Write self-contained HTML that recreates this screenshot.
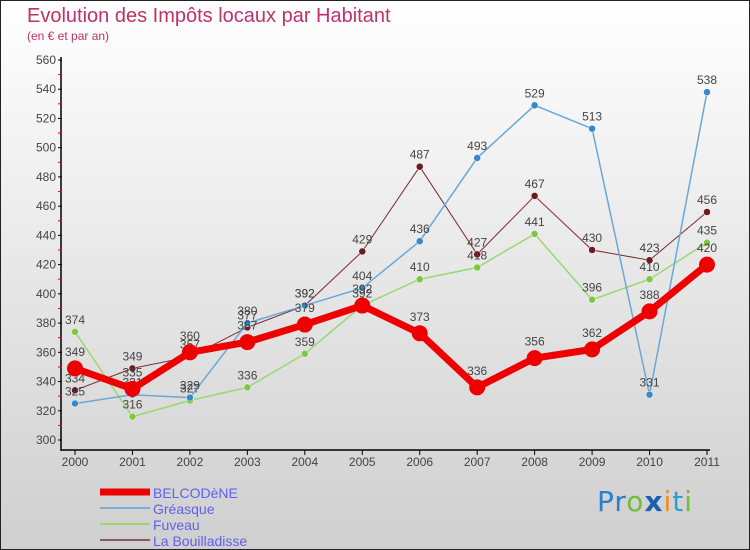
<!DOCTYPE html>
<html><head><meta charset="utf-8"><style>
body{margin:0}
#wrap{width:750px;height:550px;position:relative;overflow:hidden;background:linear-gradient(#ffffff,#cfcfcf);box-sizing:border-box;border:1px solid #222;font-family:"Liberation Sans",sans-serif}
.t{position:absolute;white-space:nowrap}
</style></head><body>
<div id="wrap">
<div class="t" style="left:26px;top:4px;font-size:20px;color:#c0306a">Evolution des Impôts locaux par Habitant</div>
<div class="t" style="left:26px;top:28px;font-size:12px;color:#c0306a">(en € et par an)</div>
<svg id="svg" width="750" height="550" style="position:absolute;left:-1px;top:-1px"></svg>
<div class="t" style="left:596px;top:484px;font-size:28px;font-family:'DejaVu Sans',sans-serif;letter-spacing:1px"><span style="color:#2a7fd0">Pr</span><span style="color:#6cbf3a">o</span><span style="color:#1a5fb0;font-weight:bold">x</span><span style="color:#f08a1c">i</span><span style="color:#2a9fd0">t</span><span style="color:#6cbf3a">i</span></div>
</div>
<script>
const years=[2000,2001,2002,2003,2004,2005,2006,2007,2008,2009,2010,2011];
const yTicks=[300,320,340,360,380,400,420,440,460,480,500,520,540,560];
const belcodene=[349,335,360,367,379,392,373,336,356,362,388,420];
const greasque=[325,331,329,380,392,404,436,493,529,513,331,538];
const fuveau=[374,316,327,336,359,392,410,418,441,396,410,435];
const bouilladisse=[334,349,357,377,392,429,487,427,467,430,423,456];
const svg=document.getElementById('svg');const NS='http://www.w3.org/2000/svg';
const X=i=>75+i*(707-75)/11;const Y=v=>440-(v-300)*380/260;
function mk(t,a,p){const e=document.createElementNS(NS,t);for(const k in a)e.setAttribute(k,a[k]);(p||svg).appendChild(e);return e;}
mk('line',{x1:61,y1:57,x2:61,y2:451,stroke:'#000','stroke-width':1.5});
mk('line',{x1:61,y1:450,x2:710,y2:450,stroke:'#000','stroke-width':1.5});
yTicks.forEach(v=>{const y=Y(v);
 mk('line',{x1:58,y1:y,x2:62,y2:y,stroke:'#000'});
 if(v<560)mk('line',{x1:58,y1:y-14.6,x2:62,y2:y-14.6,stroke:'#e00'});
 const t=mk('text',{x:56,y:y+4,'text-anchor':'end','font-size':12,fill:'#444'});t.textContent=v;
 });
years.forEach((yr,i)=>{const x=X(i);mk('line',{x1:x,y1:450,x2:x,y2:455,stroke:'#000'});
 const t=mk('text',{x:x,y:466,'text-anchor':'middle','font-size':12,fill:'#444'});t.textContent=yr;
 });
const series=[
 {name:'la-bouilladisse',d:bouilladisse,c:'#7a2a30',f:'#6a1a20',w:1,r:3.5},
 {name:'fuveau',d:fuveau,c:'#9ad870',f:'#7cc840',w:1.5,r:3.5},
 {name:'greasque',d:greasque,c:'#6aa8d8',f:'#3a88c8',w:1.5,r:3.5},
 {name:'belcodene',d:belcodene,c:'#ee0000',f:'#ee0000',w:7,r:8}];
series.forEach(s=>{const g=mk('g',{});
 mk('polyline',{points:s.d.map((v,i)=>X(i)+','+Y(v)).join(' '),fill:'none',stroke:s.c,'stroke-width':s.w},g);
 s.d.forEach((v,i)=>{const c=mk('circle',{cx:X(i),cy:Y(v),r:s.r,fill:s.f,stroke:s.w>2?'none':'#fff','stroke-width':0.5},g);
  
  const t=mk('text',{x:X(i),y:Y(v)-8-(s.r-3.5),'text-anchor':'middle','font-size':12,fill:'#444'},g);t.textContent=v;
  });});
const leg=[['BELCODèNE','#ee0000',7],['Gréasque','#7ab0d8',2],['Fuveau','#9ad870',2],['La Bouilladisse','#8a5a5a',2]];
leg.forEach((l,i)=>{const y=492+i*16;const g=mk('g',{});
 mk('line',{x1:100,y1:y,x2:150,y2:y,stroke:l[1],'stroke-width':l[2]},g);
 const t=mk('text',{x:153,y:y+6,'font-size':14,fill:'#6060ee'},g);t.textContent=l[0];});
</script>
</body></html>
